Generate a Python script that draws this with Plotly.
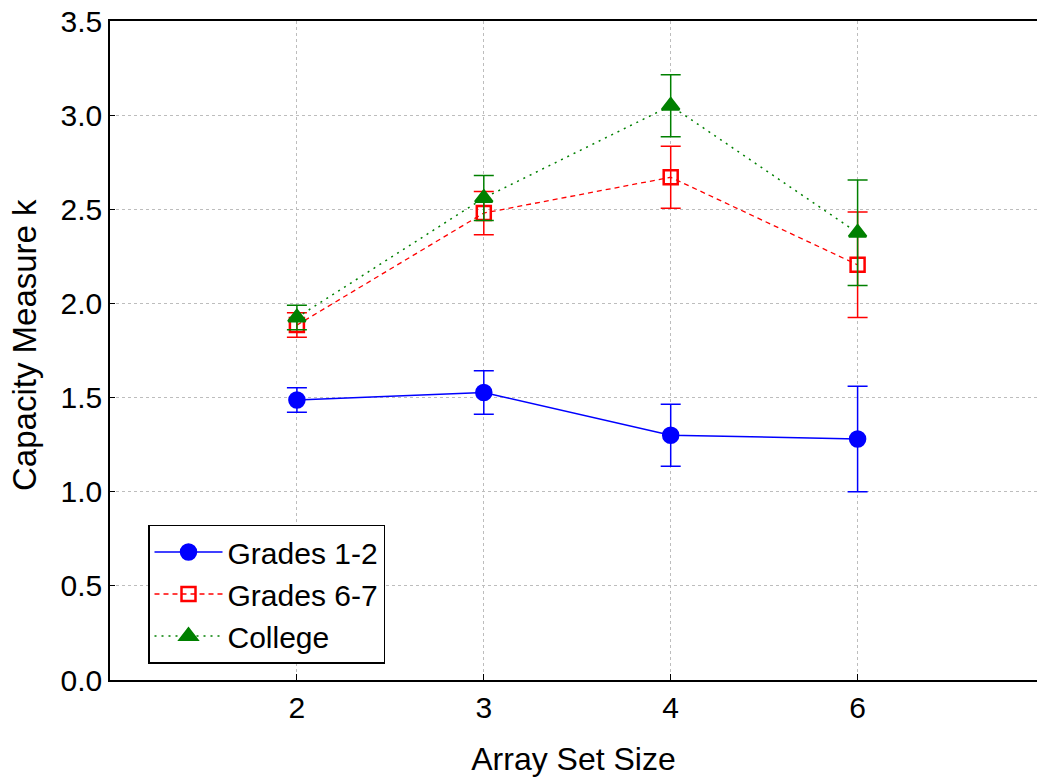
import plotly.graph_objects as go

categories = ["2", "3", "4", "6"]
x_pos = [0, 1, 2, 3]

grades12 = [1.487, 1.527, 1.30, 1.28]
grades12_err = [0.065, 0.115, 0.165, 0.28]

grades67 = [1.885, 2.48, 2.67, 2.205]
grades67_err = [0.065, 0.115, 0.165, 0.28]

college = [1.925, 2.56, 3.05, 2.375]
college_err = [0.065, 0.12, 0.165, 0.28]

y_ticks = [0, 0.5, 1.0, 1.5, 2.0, 2.5, 3.0, 3.5]
y_ticktext = ["0.0", "0.5", "1.0", "1.5", "2.0", "2.5", "3.0", "3.5"]

fig = go.Figure()

def add(name, y, err, color, dash, width, symbol, size):
    fig.add_trace(go.Scatter(
        x=x_pos, y=y, name=name, mode="lines+markers",
        line=dict(color=color, width=width, dash=dash),
        marker=dict(symbol=symbol, size=size, color=color,
                    line=dict(color=color, width=2.5)),
        error_y=dict(type="data", array=err, visible=True,
                     color=color, thickness=1.5, width=10),
    ))

add("Grades 1-2", grades12, grades12_err, "#0000FF", "solid", 1.5, "circle", 15)
add("Grades 6-7", grades67, grades67_err, "#FF0000", "5px,4px", 1.3, "square-open", 14)
add("College", college, college_err, "#008000", "2px,5px", 1.5, "triangle-up", 15)

font_family = "Liberation Sans, Arial, sans-serif"

W, H = 1037, 782
L, T, B, R = 110, 21, 102, 0
plot_w = W - L - R
plot_h = H - T - B

fig.update_layout(
    width=W, height=H,
    margin=dict(l=L, r=R, t=T, b=B),
    paper_bgcolor="white", plot_bgcolor="white",
    font=dict(family=font_family, size=30, color="black"),
    showlegend=True,
    legend=dict(
        x=38 / plot_w, y=(680 - 594) / plot_h, xanchor="left", yanchor="middle",
        bordercolor="black", borderwidth=1.5, bgcolor="white",
        font=dict(size=30, family=font_family),
        itemwidth=68, tracegroupgap=0,
    ),
    xaxis=dict(
        range=[-1, -1 + plot_w / 186.9],
        tickmode="array", tickvals=x_pos, ticktext=categories,
        showgrid=True, gridcolor="#bdbdbd", griddash="dot", gridwidth=1,
        showline=True, linecolor="black", linewidth=2, mirror=True,
        ticks="inside", ticklen=6, tickcolor="black",
        zeroline=False,
        title=dict(text="Array Set Size", font=dict(size=32), standoff=25),
        tickfont=dict(size=30),
    ),
    yaxis=dict(
        range=[0, 3.5],
        tickmode="array", tickvals=y_ticks, ticktext=y_ticktext,
        showgrid=True, gridcolor="#bdbdbd", griddash="dot", gridwidth=1,
        showline=True, linecolor="black", linewidth=1.5, mirror=False,
        ticks="inside", ticklen=5, tickcolor="black",
        zeroline=False,
        ticklabeloverflow="allow",
        tickfont=dict(size=30),
    ),
    annotations=[dict(
        text="Capacity Measure k", textangle=-90,
        xref="paper", yref="paper", x=(24 - L) / plot_w, y=(680 - 345) / plot_h,
        xanchor="center", yanchor="middle", showarrow=False,
        font=dict(size=33, family=font_family, color="black"),
    )],
)

# Remove the default 8px page margin so the figure fills the window exactly.
fig.write_html("out.html", config={"displayModeBar": False},
               post_script="document.body.style.margin='0';")
